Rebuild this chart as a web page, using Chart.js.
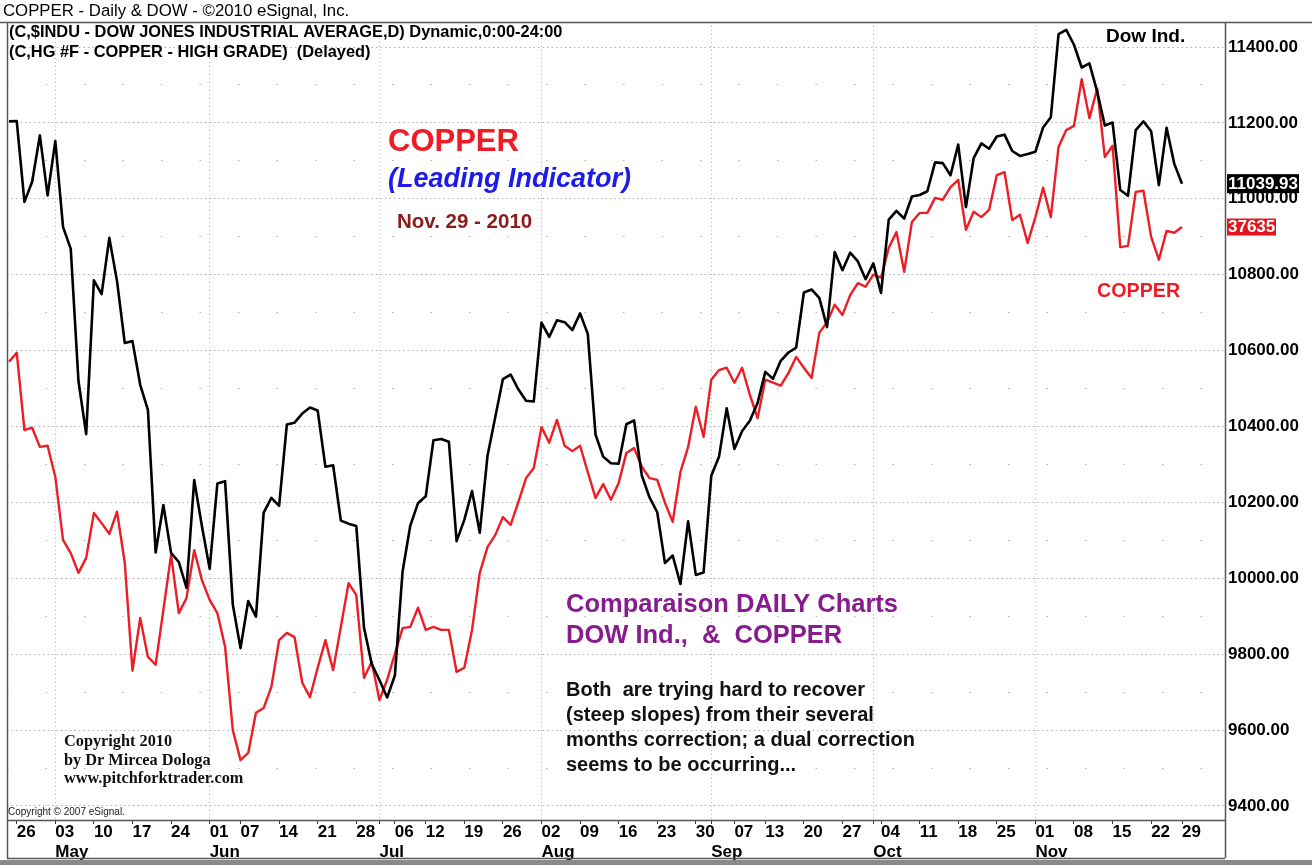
<!DOCTYPE html>
<html lang="en">
<head>
<meta charset="UTF-8">
<title>COPPER - Daily &amp; DOW</title>
<script src="https://cdn.jsdelivr.net/npm/chart.js"></script>
<style>
    html, body { margin: 0; padding: 0; background: #fff; }
    #wrap { width: 1312px; height: 865px; }
</style>
</head>
<body>
<div id="wrap"><canvas id="chart" width="1312" height="865"></canvas></div>
<script>
// trading days 2010, Apr 23 .. Nov 29 (MM-DD)
const dates = [
    '04-23','04-26','04-27','04-28','04-29','04-30',
    '05-03','05-04','05-05','05-06','05-07','05-10','05-11','05-12','05-13','05-14',
    '05-17','05-18','05-19','05-20','05-21','05-24','05-25','05-26','05-27','05-28',
    '06-01','06-02','06-03','06-04','06-07','06-08','06-09','06-10','06-11',
    '06-14','06-15','06-16','06-17','06-18','06-21','06-22','06-23','06-24','06-25',
    '06-28','06-29','06-30',
    '07-01','07-02','07-06','07-07','07-08','07-09','07-12','07-13','07-14','07-15','07-16',
    '07-19','07-20','07-21','07-22','07-23','07-26','07-27','07-28','07-29','07-30',
    '08-02','08-03','08-04','08-05','08-06','08-09','08-10','08-11','08-12','08-13',
    '08-16','08-17','08-18','08-19','08-20','08-23','08-24','08-25','08-26','08-27',
    '08-30','08-31',
    '09-01','09-02','09-03','09-07','09-08','09-09','09-10','09-13','09-14','09-15','09-16','09-17',
    '09-20','09-21','09-22','09-23','09-24','09-27','09-28','09-29','09-30',
    '10-01','10-04','10-05','10-06','10-07','10-08','10-11','10-12','10-13','10-14','10-15',
    '10-18','10-19','10-20','10-21','10-22','10-25','10-26','10-27','10-28','10-29',
    '11-01','11-02','11-03','11-04','11-05','11-08','11-09','11-10','11-11','11-12',
    '11-15','11-16','11-17','11-18','11-19','11-22','11-23','11-24','11-26','11-29'
];

// Dow Jones Industrial Average, daily close
const dow = [
    11204, 11205, 10992, 11045, 11167, 11009, 11152, 10926, 10868, 10520,
    10380, 10785, 10749, 10897, 10783, 10620, 10625, 10510, 10444, 10068,
    10193, 10067, 10043, 9975, 10259, 10137, 10025, 10250, 10256, 9931,
    9816, 9940, 9899, 10173, 10212, 10191, 10405, 10410, 10434, 10450,
    10442, 10294, 10298, 10152, 10144, 10138, 9870, 9774, 9732, 9686,
    9744, 10018, 10139, 10198, 10216, 10364, 10367, 10360, 10098, 10154,
    10230, 10120, 10322, 10424, 10525, 10537, 10498, 10468, 10466, 10674,
    10636, 10680, 10675, 10654, 10698, 10644, 10379, 10320, 10303, 10302,
    10406, 10416, 10271, 10213, 10174, 10040, 10060, 9985, 10150, 10009,
    10015, 10270, 10320, 10448, 10341, 10388, 10415, 10462, 10544, 10526,
    10573, 10595, 10608, 10753, 10761, 10739, 10662, 10860, 10812, 10858,
    10835, 10788, 10830, 10752, 10945, 10968, 10948, 11006, 11010, 11020,
    11096, 11094, 11062, 11143, 10978, 11107, 11146, 11132, 11164, 11169,
    11126, 11113, 11118, 11124, 11188, 11215, 11434, 11445, 11406, 11346,
    11357, 11283, 11193, 11201, 11023, 11008, 11181, 11204, 11178, 11036,
    11187, 11092, 11039.93
];

// HG copper, $/lb (own hidden scale, overlaid)
const copper = [
    3.539, 3.554, 3.425, 3.429, 3.397, 3.399, 3.347, 3.242, 3.220, 3.187,
    3.212, 3.287, 3.270, 3.252, 3.289, 3.204, 3.024, 3.112, 3.047, 3.034,
    3.125, 3.217, 3.120, 3.145, 3.225, 3.175, 3.142, 3.120, 3.064, 2.925,
    2.875, 2.887, 2.954, 2.962, 2.997, 3.075, 3.087, 3.080, 3.004, 2.980,
    3.029, 3.075, 3.025, 3.097, 3.170, 3.150, 3.012, 3.039, 2.975, 3.009,
    3.052, 3.095, 3.097, 3.129, 3.092, 3.097, 3.092, 3.092, 3.022, 3.029,
    3.092, 3.187, 3.230, 3.250, 3.280, 3.267, 3.305, 3.345, 3.362, 3.430,
    3.404, 3.442, 3.399, 3.390, 3.399, 3.355, 3.312, 3.335, 3.309, 3.337,
    3.387, 3.395, 3.364, 3.345, 3.342, 3.304, 3.272, 3.355, 3.397, 3.464,
    3.414, 3.509, 3.525, 3.529, 3.504, 3.529, 3.484, 3.445, 3.509, 3.504,
    3.499, 3.520, 3.547, 3.529, 3.512, 3.587, 3.605, 3.634, 3.617, 3.650,
    3.670, 3.664, 3.684, 3.679, 3.729, 3.755, 3.689, 3.772, 3.787, 3.787,
    3.812, 3.809, 3.830, 3.842, 3.759, 3.789, 3.780, 3.792, 3.850, 3.855,
    3.775, 3.784, 3.737, 3.780, 3.829, 3.780, 3.897, 3.925, 3.932, 4.010,
    3.945, 3.994, 3.880, 3.899, 3.730, 3.732, 3.822, 3.824, 3.747, 3.709,
    3.757, 3.754, 3.7635
];

const dowTicks = [9400, 9500, 9600, 9700, 9800, 9900, 10000, 10100, 10200, 10300,
    10400, 10500, 10600, 10700, 10800, 10900, 11000, 11100, 11200, 11300, 11400];
const monthNames = ['Jan','Feb','Mar','Apr','May','Jun','Jul','Aug','Sep','Oct','Nov','Dec'];

const FONT = '"Liberation Sans", Arial, sans-serif';
Chart.defaults.font.family = FONT;

function weekday(i) {
    const [m, d] = dates[i].split('-').map(Number);
    return new Date(2010, m - 1, d).getDay();
}
function isWeekStart(i) { return i > 0 && weekday(i) <= weekday(i - 1); }
function isMonthStart(i) { return i > 0 && dates[i].slice(0, 2) !== dates[i - 1].slice(0, 2); }

const tickIdx = dates.map((d, i) => i).filter(i => isWeekStart(i) || isMonthStart(i));

function labelFor(i) {
    const [m, day] = dates[i].split('-');
    const first = isWeekStart(i) ? day : '';
    return isMonthStart(i) ? [first, monthNames[+m - 1]] : first;
}

const points = arr => arr.map((v, i) => ({ x: i, y: v }));

const decor = {
    id: 'decor',
    beforeDraw(chart) {
        const ctx = chart.ctx;
        ctx.save();
        ctx.fillStyle = '#fff';
        ctx.fillRect(0, 0, chart.width, chart.height);
        ctx.restore();
    },
    afterDraw(chart) {
        const { ctx, chartArea: a, scales } = chart;
        ctx.save();

        // frame
        ctx.strokeStyle = '#555';
        ctx.lineWidth = 1.5;
        ctx.beginPath();
        ctx.moveTo(0, a.top + 0.5); ctx.lineTo(chart.width, a.top + 0.5);
        ctx.moveTo(a.left + 0.5, a.top); ctx.lineTo(a.left + 0.5, 858);
        ctx.moveTo(a.left, a.bottom + 0.5); ctx.lineTo(a.right, a.bottom + 0.5);
        ctx.moveTo(a.right + 0.5, a.top); ctx.lineTo(a.right + 0.5, 858);
        ctx.moveTo(a.left, 858.5); ctx.lineTo(a.right, 858.5);
        ctx.stroke();
        ctx.fillStyle = '#8a8a8a';
        ctx.fillRect(0, 860, chart.width, 5);

        ctx.textBaseline = 'middle';
        ctx.textAlign = 'left';
        const text = (s, x, y, font, color) => {
            ctx.font = font; ctx.fillStyle = color; ctx.fillText(s, x, y);
        };

        text('COPPER - Daily & DOW - \u00a92010 eSignal, Inc.', 3, 11, '16.8px ' + FONT, '#000');
        text('(C,$INDU - DOW JONES INDUSTRIAL AVERAGE,D) Dynamic,0:00-24:00', 9, 32, 'bold 16.4px ' + FONT, '#000');
        text('(C,HG #F - COPPER - HIGH GRADE)  (Delayed)', 9, 52, 'bold 16.4px ' + FONT, '#000');

        text('COPPER', 388, 142, 'bold 31px ' + FONT, '#ee1c24');
        text('(Leading Indicator)', 388, 180, 'italic bold 27px ' + FONT, '#1c1ce8');
        text('Nov. 29 - 2010', 397, 222, 'bold 20.5px ' + FONT, '#8b1a1a');

        text('Dow Ind.', 1106, 37, 'bold 19px ' + FONT, '#000');
        text('COPPER', 1097, 292, 'bold 19.7px ' + FONT, '#ee1c24');

        text('Comparaison DAILY Charts', 566, 605, 'bold 25.5px ' + FONT, '#861c8e');
        text('DOW Ind.,  &  COPPER', 566, 636, 'bold 25.5px ' + FONT, '#861c8e');

        const body = ['Both  are trying hard to recover', '(steep slopes) from their several',
            'months correction; a dual correction', 'seems to be occurring...'];
        body.forEach((s, k) => text(s, 566, 690 + k * 25.3, 'bold 20px ' + FONT, '#111'));

        const serif = 'bold 16.3px "Liberation Serif", "Times New Roman", serif';
        text('Copyright 2010', 64, 742, serif, '#111');
        text('by Dr Mircea Dologa', 64, 761, serif, '#111');
        text('www.pitchforktrader.com', 64, 779, serif, '#111');

        text('Copyright \u00a9 2007 eSignal.', 8, 812, '10px ' + FONT, '#222');

        // last value tags on the price axis
        const lastDow = dow[dow.length - 1];
        const lastCu = copper[copper.length - 1];
        const yd = scales.y.getPixelForValue(lastDow);
        const yc = scales.yc.getPixelForValue(lastCu);
        ctx.fillStyle = '#000';
        ctx.fillRect(a.right + 2, yd - 9.5, 72, 19);
        text(lastDow.toFixed(2), a.right + 3, yd + 0.5, 'bold 17px ' + FONT, '#fff');
        ctx.fillStyle = '#e4141c';
        ctx.fillRect(a.right + 2, yc - 8.5, 49, 17);
        text((lastCu * 10000).toFixed(0), a.right + 3, yc + 0.5, 'bold 17px ' + FONT, '#fff');

        ctx.restore();
    }
};

new Chart(document.getElementById('chart'), {
    type: 'line',
    data: {
        datasets: [
            {
                label: 'Dow Ind.',
                data: points(dow),
                yAxisID: 'y',
                borderColor: '#000',
                borderWidth: 2.6,
                borderJoinStyle: 'round',
                pointRadius: 0,
                tension: 0
            },
            {
                label: 'COPPER',
                data: points(copper),
                yAxisID: 'yc',
                borderColor: '#ee1c24',
                borderWidth: 2.4,
                borderJoinStyle: 'round',
                pointRadius: 0,
                tension: 0
            }
        ]
    },
    options: {
        responsive: false,
        animation: false,
        devicePixelRatio: 1,
        layout: { padding: { left: 7, top: 22, right: 0, bottom: 0 } },
        plugins: { legend: { display: false }, tooltip: { enabled: false } },
        scales: {
            x: {
                type: 'linear',
                min: -0.26,
                max: 157.57,
                afterBuildTicks: s => { s.ticks = tickIdx.map(i => ({ value: i })); },
                afterFit: s => { s.height = 45; },
                ticks: {
                    autoSkip: false,
                    maxRotation: 0,
                    align: 'start',
                    padding: -2,
                    color: '#000',
                    font: { size: 17, weight: 'bold', lineHeight: 1.2 },
                    callback: v => labelFor(v)
                },
                grid: {
                    color: c => (c.tick && isMonthStart(c.tick.value)) ? '#b8b8b8' : 'rgba(0,0,0,0)',
                    lineWidth: 1,
                    tickLength: 4,
                    tickColor: '#333',
                    tickWidth: 1
                },
                border: { display: false, dash: [1, 3] }
            },
            y: {
                position: 'right',
                min: 9363.1,
                max: 11465.9,
                afterBuildTicks: s => { s.ticks = dowTicks.map(v => ({ value: v })); },
                afterFit: s => { s.width = 87; },
                ticks: {
                    padding: 3,
                    color: '#000',
                    font: { size: 17, weight: 'bold' },
                    callback: v => (v % 200 === 0 ? v.toFixed(2) : '')
                },
                grid: { color: '#b0b0b0', lineWidth: 1, drawTicks: false },
                border: {
                    display: false,
                    dash: c => (c.tick && c.tick.value % 200 !== 0) ? [1.5, 37] : [1.5, 3]
                }
            },
            yc: { display: false, min: 2.7752, max: 4.1052 }
        }
    },
    plugins: [decor]
});
</script>
</body>
</html>
